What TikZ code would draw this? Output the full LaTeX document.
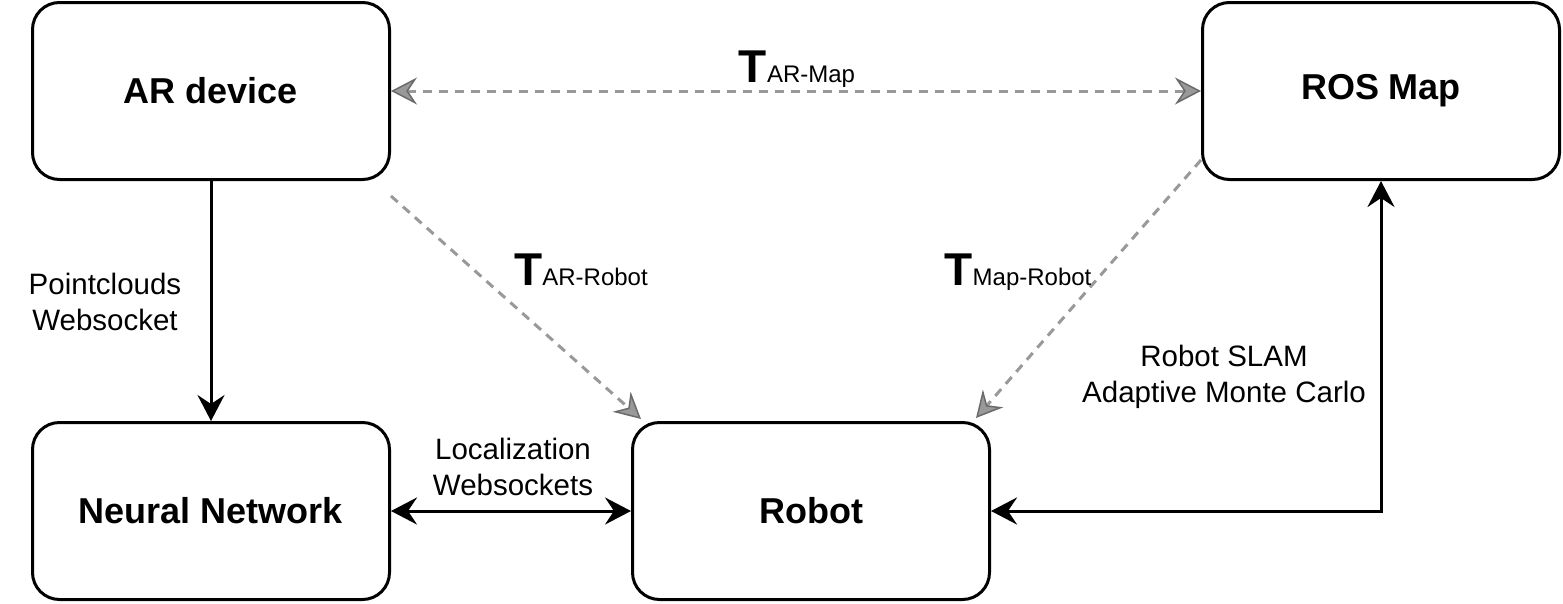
\documentclass[tikz,border=0pt]{standalone}
\usepackage{fontspec}
\setmainfont{Liberation Sans}
\usetikzlibrary{arrows.meta,calc}
\tikzset{
  box/.style={draw=black, line width=3pt, rounded corners=27pt, minimum width=357pt, minimum height=177pt, inner sep=0pt, fill=white, font=\fontsize{36}{43}\selectfont\bfseries},
  lbl/.style={align=center, inner sep=0pt, font=\fontsize{29.5}{36.5}\selectfont},
  solidarrow/.style={line width=3pt, draw=black},
  tipblack/.tip={Stealth[length=26pt,width=27pt,inset=9pt]},
  tipgrey/.tip={Stealth[length=26pt,width=27pt,inset=9pt,color=black!58,fill=black!40,line width=1.5pt]},
  dasharrow/.style={line width=3pt, draw=black!40, dash pattern=on 9pt off 7pt},
  tlbl/.style={inner sep=0pt, anchor=base}
}
\newcommand{\Tlabel}[1]{{\fontsize{46}{50}\selectfont\bfseries T}{\fontsize{24}{28}\selectfont #1}}
\begin{document}
\begin{tikzpicture}[x=1pt,y=-1pt]
\useasboundingbox (0,0) rectangle (1563,603);
\node[box] (ar) at (211,91) {AR device};
\node[box] (ros) at (1381,91) {ROS Map};
\node[box] (nn) at (211,511) {Neural Network};
\node[box] (robot) at (811,511) {Robot};

% solid connectors
\draw[solidarrow, -{tipblack}] (ar.south) -- (nn.north);
\draw[solidarrow, {tipblack}-{tipblack}] (nn.east) -- (robot.west);
\draw[solidarrow, {tipblack}-{tipblack}] (ros.south) |- (robot.east);

% dashed connectors
\draw[dasharrow, {tipgrey}-{tipgrey}] (ar.east) -- (ros.west);
\draw[dasharrow, -{tipgrey}] ([yshift=-15pt]ar.south east) -- ([xshift=10pt,yshift=2pt]robot.north west);
\draw[dasharrow, -{tipgrey}] ([yshift=21pt]ros.south west) -- ([xshift=-15pt,yshift=3pt]robot.north east);

% labels
\node[lbl] (l1) at (105,302) {Pointclouds\\Websocket};
\node[lbl] (l2) at (513,467) {Localization\\Websockets};
\node[lbl] (l3) at (1224,377) {Robot SLAM\\Adaptive Monte Carlo};
\node[tlbl] (t1) at (797,82) {\Tlabel{AR-Map}};
\node[tlbl] (t2) at (581,285) {\Tlabel{AR-Robot}};
\node[tlbl] (t3) at (1018,285) {\Tlabel{Map-Robot}};
\end{tikzpicture}
\end{document}
